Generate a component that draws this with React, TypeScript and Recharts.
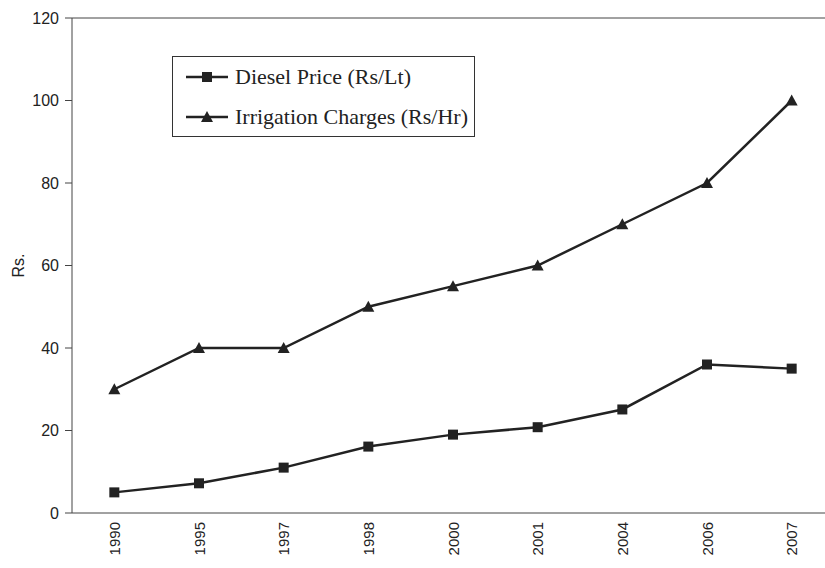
import { LineChart, Line, XAxis, YAxis, Legend, ReferenceLine, Label } from "recharts";

const YEARS = ["1990", "1995", "1997", "1998", "2000", "2001", "2004", "2006", "2007"];
const DIESEL = [5, 7.2, 11, 16.1, 19, 20.8, 25.1, 36, 35];
const IRRIGATION = [30, 40, 40, 50, 55, 60, 70, 80, 100];
const Y_TICKS = [0, 20, 40, 60, 80, 100, 120];

const data = YEARS.map((year, idx) => ({
  idx,
  year,
  diesel: DIESEL[idx],
  irrigation: IRRIGATION[idx],
}));

const LABEL_TICKS = YEARS.map((_, i) => i);
const EDGE_TICKS = [...YEARS.map((_, i) => i - 0.5), YEARS.length - 0.5];

const INK = "#222";
const AXIS = "#444";
const SANS = "'Liberation Sans', Arial, sans-serif";
const SERIF = "'Liberation Serif', 'Times New Roman', serif";

function SquareDot(props: any) {
  const { cx, cy, index } = props;
  if (cx == null || cy == null) return null;
  return <rect key={`sq-${index}`} x={cx - 5} y={cy - 5} width={10} height={10} fill={INK} />;
}

function TriangleDot(props: any) {
  const { cx, cy, index } = props;
  if (cx == null || cy == null) return null;
  return (
    <path
      key={`tr-${index}`}
      d={`M${cx},${cy - 6} L${cx + 6},${cy + 5} L${cx - 6},${cy + 5} Z`}
      fill={INK}
    />
  );
}

function YearTick(props: any) {
  const { x, y, payload } = props;
  const ty = y + 1;
  return (
    <text
      x={x}
      y={ty}
      transform={`rotate(-90, ${x}, ${ty})`}
      textAnchor="end"
      dominantBaseline="central"
      fontFamily={SANS}
      fontSize={15}
      fill={INK}
    >
      {YEARS[payload.value]}
    </text>
  );
}

function LegendBox() {
  const rows = [
    { name: "Diesel Price (Rs/Lt)", shape: "square" },
    { name: "Irrigation Charges (Rs/Hr)", shape: "triangle" },
  ];
  return (
    <div
      style={{
        width: 301,
        height: 79,
        border: "1.5px solid #333",
        background: "#fff",
        boxSizing: "content-box",
      }}
    >
      {rows.map((r) => (
        <div key={r.name} style={{ display: "flex", alignItems: "center", height: 40 }}>
          <svg width={62} height={20} style={{ flex: "none" }}>
            <line x1={13} y1={10} x2={55} y2={10} stroke={INK} strokeWidth={2.5} />
            {r.shape === "square" ? (
              <rect x={29} y={5} width={10} height={10} fill={INK} />
            ) : (
              <path d="M34,4 L40,15 L28,15 Z" fill={INK} />
            )}
          </svg>
          <span style={{ fontFamily: SERIF, fontSize: 22, color: INK, whiteSpace: "nowrap" }}>{r.name}</span>
        </div>
      ))}
    </div>
  );
}

export default function App() {
  return (
    <div
      style={{
        position: "absolute",
        left: 0,
        top: 0,
        width: 825,
        height: 568,
        overflow: "hidden",
        background: "#fff",
      }}
    >
      <LineChart width={834} height={568} data={data} margin={{ top: 18, right: 0, left: 0, bottom: 0 }}>
        <XAxis
          xAxisId="edge"
          type="number"
          dataKey="idx"
          domain={[-0.5, YEARS.length - 0.5]}
          ticks={EDGE_TICKS}
          tick={false}
          tickSize={8}
          height={8}
          stroke={AXIS}
          tickLine={{ stroke: AXIS }}
          axisLine={{ stroke: AXIS }}
        />
        <XAxis
          xAxisId="lab"
          type="number"
          dataKey="idx"
          domain={[-0.5, YEARS.length - 0.5]}
          ticks={LABEL_TICKS}
          interval={0}
          tick={<YearTick />}
          tickLine={false}
          axisLine={false}
          tickSize={0}
          tickMargin={0}
          height={47}
        />
        <YAxis
          domain={[0, 120]}
          ticks={Y_TICKS}
          width={72}
          tickSize={7}
          tickMargin={6}
          stroke={AXIS}
          tick={{ fill: INK, fontSize: 16, fontFamily: SANS }}
        >
          <Label
            content={(p: any) => {
              const vb = p.viewBox || {};
              const cx = 18;
              const cy = (vb.y ?? 18) + (vb.height ?? 495) / 2;
              return (
                <text
                  x={cx}
                  y={cy}
                  transform={`rotate(-90, ${cx}, ${cy})`}
                  textAnchor="middle"
                  dominantBaseline="central"
                  fontFamily={SANS}
                  fontSize={16}
                  fill={INK}
                >
                  Rs.
                </text>
              );
            }}
          />
        </YAxis>
        <ReferenceLine y={120} xAxisId="lab" stroke={AXIS} strokeWidth={1} ifOverflow="visible" />
        <Legend
          verticalAlign="middle"
          layout="horizontal"
          content={() => <LegendBox />}
          wrapperStyle={{ position: "absolute", left: 172, top: 56, width: "auto", height: "auto" }}
        />
        <Line
          xAxisId="lab"
          type="linear"
          dataKey="diesel"
          name="Diesel Price (Rs/Lt)"
          stroke={INK}
          strokeWidth={2.5}
          dot={<SquareDot />}
          activeDot={false}
          isAnimationActive={false}
        />
        <Line
          xAxisId="lab"
          type="linear"
          dataKey="irrigation"
          name="Irrigation Charges (Rs/Hr)"
          stroke={INK}
          strokeWidth={2.5}
          dot={<TriangleDot />}
          activeDot={false}
          isAnimationActive={false}
        />
      </LineChart>
    </div>
  );
}
